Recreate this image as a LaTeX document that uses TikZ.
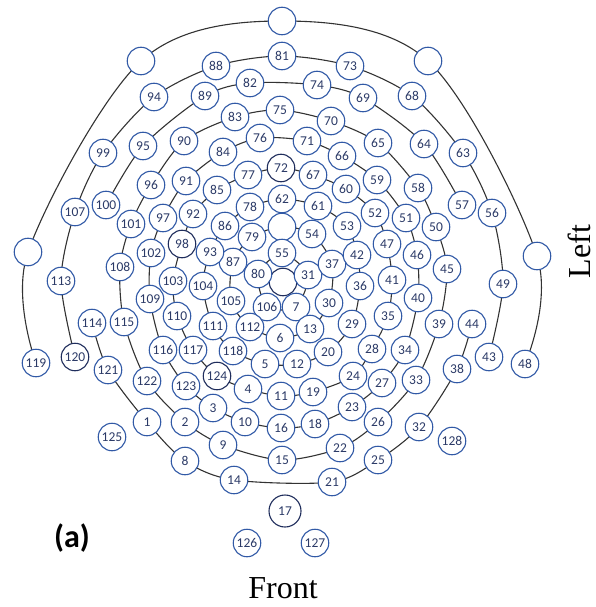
\documentclass[tikz,border=0pt]{standalone}
\usepackage{fontspec}
\setmainfont{Liberation Serif}
\newfontfamily\numfont{Carlito}
\definecolor{ecol}{HTML}{3159A6}
\definecolor{edark}{HTML}{1F2D5C}
\definecolor{tcol}{HTML}{2B3A67}
\definecolor{lcol}{HTML}{333333}
\pgfdeclarelayer{bg}
\pgfsetlayers{bg,main}
\tikzset{
  el/.style={circle, draw=ecol, line width=1.1pt, fill=white, minimum size=27.5pt, inner sep=0pt, text=tcol, font=\numfont\fontsize{13.5}{14}\selectfont},
  eldark/.style={el, draw=edark},
  ring/.style={draw=lcol, line width=1.1pt},
  bigtext/.style={inner sep=0pt, font=\fontsize{32}{34}\selectfont},
}
\begin{document}
\begin{tikzpicture}[x=1pt,y=-1pt]
\path[use as bounding box] (0,0) rectangle (596,607);
% empty sensors
\foreach \n/\x/\y in {1/282/21,2/141/61,3/428/61,4/28/252,5/537/256,6/282/227}
  \node[el] (x\n) at (\x,\y) {};
\node[eldark] (x7) at (283,282) {};
% numbered sensors
\foreach \n/\x/\y in {
1/147/422,2/185/422,3/213/408,4/248/389,5/265/364,6/280/338,7/296/307,8/185/461,9/223/445,10/245/422,
11/281/396,12/297/364,13/310/329,14/234/480,15/282/460,16/281/428,18/315/424,19/313/392,20/328/352,
21/332/482,22/340/448,23/352/407,24/353/376,25/378/460,26/378/422,27/382/383,28/372/349,29/352/324,30/329/303,
31/308/275,32/419/427,33/416/380,34/405/350,35/388/316,36/360/286,37/332/264,38/457/369,39/439/324,40/418/298,
41/392/280,42/357/255,43/489/357,44/472/324,45/447/269,46/417/255,47/387/244,48/525/364,49/503/284,50/436/227,
51/406/218,52/375/213,53/347/226,54/312/234,55/282/253,56/492/213,57/462/205,58/418/188,59/377/180,60/346/189,
61/318/206,62/282/199,63/463/153,64/424/144,65/378/143,66/342/156,67/313/175,68/412/96,69/363/98,70/331/121,
71/307/141,73/350/66,74/317/85,75/280/110,76/260/138,77/248/175,78/250/207,79/252/237,80/258/274,
81/282/56,82/250/83,83/235/117,84/223/152,85/217/190,86/225/226,87/233/262,88/216/66,89/205/96,90/184/141,
91/186/181,92/193/214,93/210/252,94/154/97,95/143/146,96/151/185,97/163/218,99/103/153,100/106/205,
101/131/224,102/151/253,103/173/281,104/203/286,105/231/301,106/267/307,107/75/212,108/120/267,109/150/299,110/177/316,
111/213/326,112/250/327,113/61/281,114/92/323,115/124/322,116/163/350,117/193/350,118/233/351,119/36/363,
121/108/370,122/147/381,123/186/386,125/112/437,126/247/543,127/315/543,128/452/441}
  \node[el] (e\n) at (\x,\y) {\n};
\foreach \n/\x/\y in {72/281/168,98/182/244,120/75/357,124/217/376}
  \node[eldark] (e\n) at (\x,\y) {\n};
\node[eldark, minimum size=32pt] (e17) at (285,511) {17};
% rings
\begin{pgfonlayer}{bg}
\draw[ring] plot[smooth cycle, tension=0.45] coordinates {(e55.center) (e31.center) (e7.center) (e106.center) (e80.center)};
\draw[ring] plot[smooth cycle, tension=0.5] coordinates {(x6.center) (e54.center) (e37.center) (e30.center) (e13.center) (e6.center) (e112.center) (e105.center) (e87.center) (e79.center)};
\draw[ring] plot[smooth cycle, tension=0.5] coordinates {(e62.center) (e61.center) (e53.center) (e42.center) (e36.center) (e29.center) (e20.center) (e12.center) (e5.center) (e118.center) (e111.center) (e104.center) (e93.center) (e86.center) (e78.center)};
\draw[ring] plot[smooth cycle, tension=0.5] coordinates {(e72.center) (e67.center) (e60.center) (e52.center) (e47.center) (e41.center) (e35.center) (e28.center) (e24.center) (e19.center) (e11.center) (e4.center) (e124.center) (e117.center) (e110.center) (e103.center) (e98.center) (e92.center) (e85.center) (e77.center)};
\draw[ring] plot[smooth cycle, tension=0.5] coordinates {(e71.center) (e66.center) (e59.center) (e51.center) (e46.center) (e40.center) (e34.center) (e27.center) (e23.center) (e18.center) (e16.center) (e10.center) (e3.center) (e123.center) (e116.center) (e109.center) (e102.center) (e97.center) (e91.center) (e84.center) (e76.center)};
\draw[ring] plot[smooth cycle, tension=0.5] coordinates {(e75.center) (e70.center) (e65.center) (e58.center) (e50.center) (e45.center) (e39.center) (e33.center) (e26.center) (e22.center) (e15.center) (e9.center) (e2.center) (e122.center) (e115.center) (e108.center) (e101.center) (e96.center) (e90.center) (e83.center)};
\draw[ring] plot[smooth, tension=0.5] coordinates {(e100.center) (e95.center) (e89.center) (e82.center) (e74.center) (e69.center) (e64.center) (e57.center)};
\draw[ring] plot[smooth, tension=0.5] coordinates {(e44.center) (e38.center) (e32.center) (e25.center) (e21.center) (e14.center) (e8.center) (e1.center) (e121.center) (e114.center)};
\draw[ring] plot[smooth, tension=0.5] coordinates {(e120.center) (e113.center) (e107.center) (e99.center) (e94.center) (e88.center) (e81.center) (e73.center) (e68.center) (e63.center) (e56.center) (e49.center) (e43.center)};
\draw[ring] plot[smooth, tension=0.55] coordinates {(e119.center) (x4.center) (x2.center) (x1.center) (x3.center) (x5.center) (e48.center)};
\end{pgfonlayer}
% labels
\node[bigtext] (front) at (283,588) {Front};
\node[bigtext, rotate=90] (left) at (579,251.5) {Left};
\node[inner sep=0pt, font=\numfont\bfseries\fontsize{32}{34}\selectfont] (lab) at (72,538) {(a)};
\end{tikzpicture}
\end{document}
